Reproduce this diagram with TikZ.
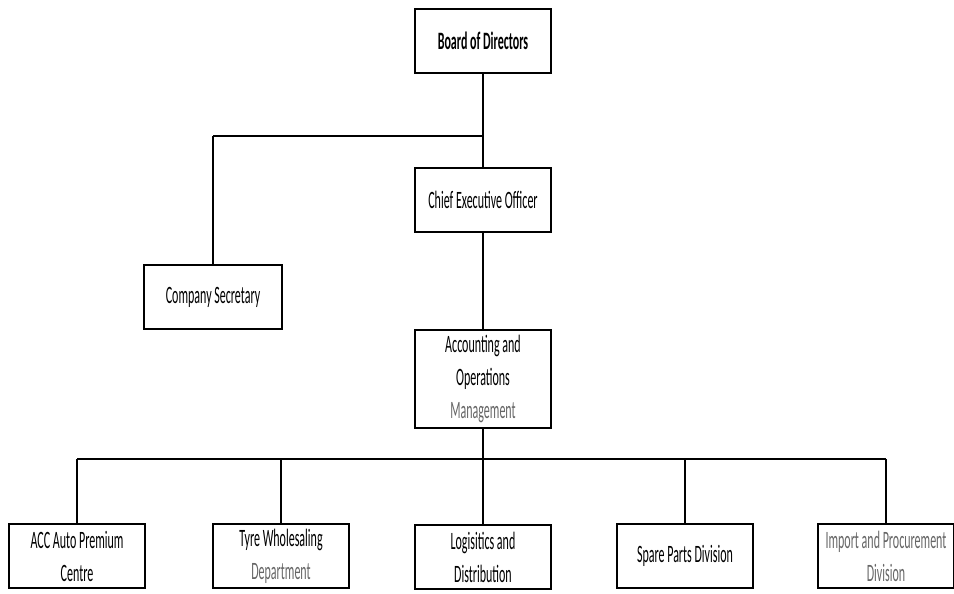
\documentclass[tikz,border=0pt]{standalone}
\usepackage{fontspec}
\setmainfont[FakeStretch=0.48]{Carlito}
\tikzset{
  box/.style={draw, line width=2pt, minimum width=136pt, minimum height=64pt,
    align=center, inner sep=0pt, font=\fontsize{25}{33}\selectfont},
  link/.style={line width=1.4pt},
  bar/.style={line width=2.4pt}
}
\begin{document}
\begin{tikzpicture}[x=1pt,y=-1pt] %[scale=0.8]
    \useasboundingbox (0,0) rectangle (954,594);
    \node[box,font=\fontsize{25}{33}\selectfont\bfseries] (bod) at (483,41) {Board of Directors};
    \node[box] (ceo) at (483,200) {Chief Executive Officer};
    \node[box,minimum width=138pt] (sec) at (213,297) {Company Secretary};
    \node[box,minimum height=98pt] (ac) at (483,379) {Accounting and\\Operations\\\textcolor{black!60}{Management}};
    \node[box] (acc) at (77,556) {ACC Auto Premium\\Centre};
    \node[box] (tyre) at (281,556) {Tyre Wholesaling\\\textcolor{black!60}{Department}};
    \node[box] (log) at (483,557) {Logisitics and\\Distribution};
    \node[box] (spare) at (685,556) {Spare Parts Division};
    \node[box] (imp) at (886,556) {\textcolor{black!60}{Import and Procurement}\\\textcolor{black!60}{Division}};
    \coordinate (t) at (483,136);
    \coordinate (b) at (483,459);
    \draw [link] (bod) -- (ceo);
    \draw [bar] (t) -- (sec |- t);
    \draw [link] (sec |- t) -- (sec);
    \draw [link] (ceo) -- (ac);
    \draw [link] (ac) -- (b);
    \draw [bar] (acc |- b) -- (imp |- b);
    \foreach \n in {acc,tyre,log,spare,imp}
      \draw [link] (\n |- b) -- (\n);
  \end{tikzpicture}
\end{document}
